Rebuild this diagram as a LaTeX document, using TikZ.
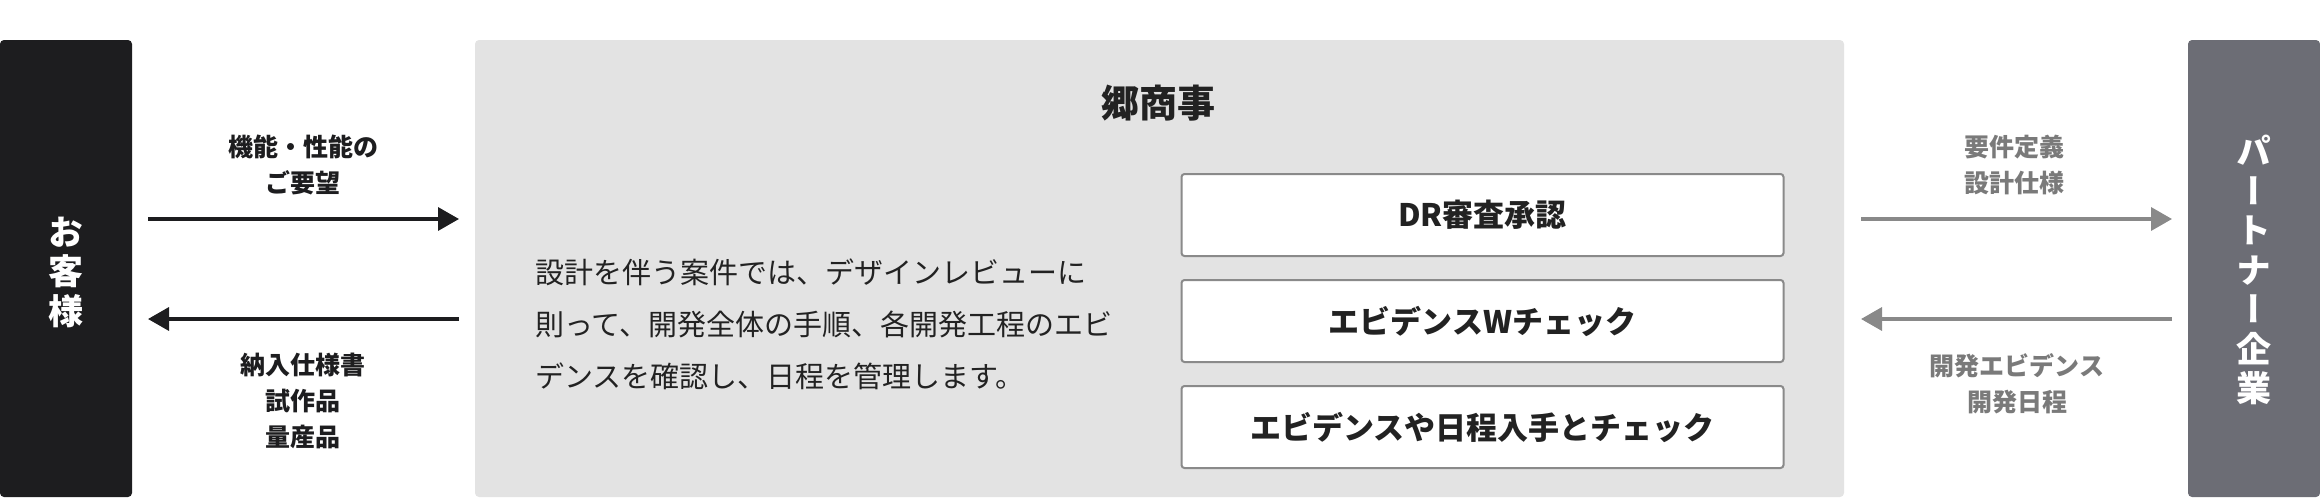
\documentclass[tikz,border=0pt]{standalone}
\usepackage{fontspec}
\setmainfont{Noto Sans CJK JP}
\newfontfamily\jpvert{Noto Sans CJK JP}[RawFeature=+vert]
\usetikzlibrary{arrows.meta}
\definecolor{blk}{HTML}{1D1D1F}
\definecolor{bgg}{HTML}{E3E3E3}
\definecolor{ptnc}{HTML}{6C6D75}
\definecolor{dark}{HTML}{222222}
\definecolor{bord}{HTML}{8A8A8A}
\definecolor{garrow}{HTML}{898989}
\definecolor{glab}{HTML}{7A7A7A}
\begin{document}
\lineskiplimit=-100pt\relax
\begin{tikzpicture}[x=1pt,y=-1pt,
  every node/.style={inner sep=0pt, outer sep=0pt},
  panel/.style={rounded corners=4pt, minimum width=132pt, minimum height=457pt},
  vtext/.style={text=white, align=center, font=\jpvert\bfseries\fontsize{35}{39.5}\selectfont},
  lab/.style={align=center, font=\bfseries\fontsize{25}{36}\selectfont},
  stepbox/.style={draw=bord, line width=2pt, fill=white, rounded corners=3pt, minimum width=602pt, minimum height=82pt, font=\bfseries\fontsize{31}{36}\selectfont, text=dark},
  blkarrow/.style={draw=blk, line width=3.5pt, -{Triangle[length=21pt,width=23pt]}},
  grayarrow/.style={draw=garrow, line width=3.5pt, -{Triangle[length=21pt,width=23pt]}}]
\useasboundingbox (0,0) rectangle (2320,498);
% panels
\node[panel, fill=blk] (cust) at (66,268.5) {};
\node[fill=bgg, rounded corners=4pt, minimum width=1369pt, minimum height=457pt] (ksj) at (1159.5,268.5) {};
\node[panel, fill=ptnc] (ptn) at (2254,268.5) {};
% vertical labels
\node[vtext] (custtxt) at (66,272) {お\\客\\様};
\node[vtext] (ptntxt) at (2254,270) {パ\\ー\\ト\\ナ\\ー\\企\\業};
% title and description
\node[font=\bfseries\fontsize{38}{44}\selectfont, text=dark] (title) at (1158,103) {郷商事};
\node[anchor=west, align=left, text=dark, font=\fontsize{29}{52}\selectfont] (desc) at (535,324)
  {設計を伴う案件では、デザインレビューに\\則って、開発全体の手順、各開発工程のエビ\\デンスを確認し、日程を管理します。};
% step boxes
\node[stepbox] (s1) at (1482.5,215) {DR審査承認};
\node[stepbox] (s2) at (1482.5,321) {エビデンスWチェック};
\node[stepbox] (s3) at (1482.5,427) {エビデンスや日程入手とチェック};
% arrow rows
\coordinate (r1) at (0,219);
\coordinate (r2) at (0,319);
\draw[blkarrow, shorten <=16pt, shorten >=16pt] (cust.east |- r1) -- (ksj.west |- r1);
\draw[blkarrow, shorten <=16pt, shorten >=16pt] (ksj.west |- r2) -- (cust.east |- r2);
\draw[grayarrow, shorten <=17pt, shorten >=16pt] (ksj.east |- r1) -- (ptn.west |- r1);
\draw[grayarrow, shorten <=16pt, shorten >=17pt] (ptn.west |- r2) -- (ksj.east |- r2);
% arrow labels
\node[lab, text=blk] (lreq) at (303,165) {機能・性能の\\ご要望};
\node[lab, text=blk] (ldel) at (303,401) {納入仕様書\\試作品\\量産品};
\node[lab, text=glab] (rreq) at (2014,165) {要件定義\\設計仕様};
\node[lab, text=glab] (revi) at (2017,383.5) {開発エビデンス\\開発日程};
\end{tikzpicture}
\end{document}
